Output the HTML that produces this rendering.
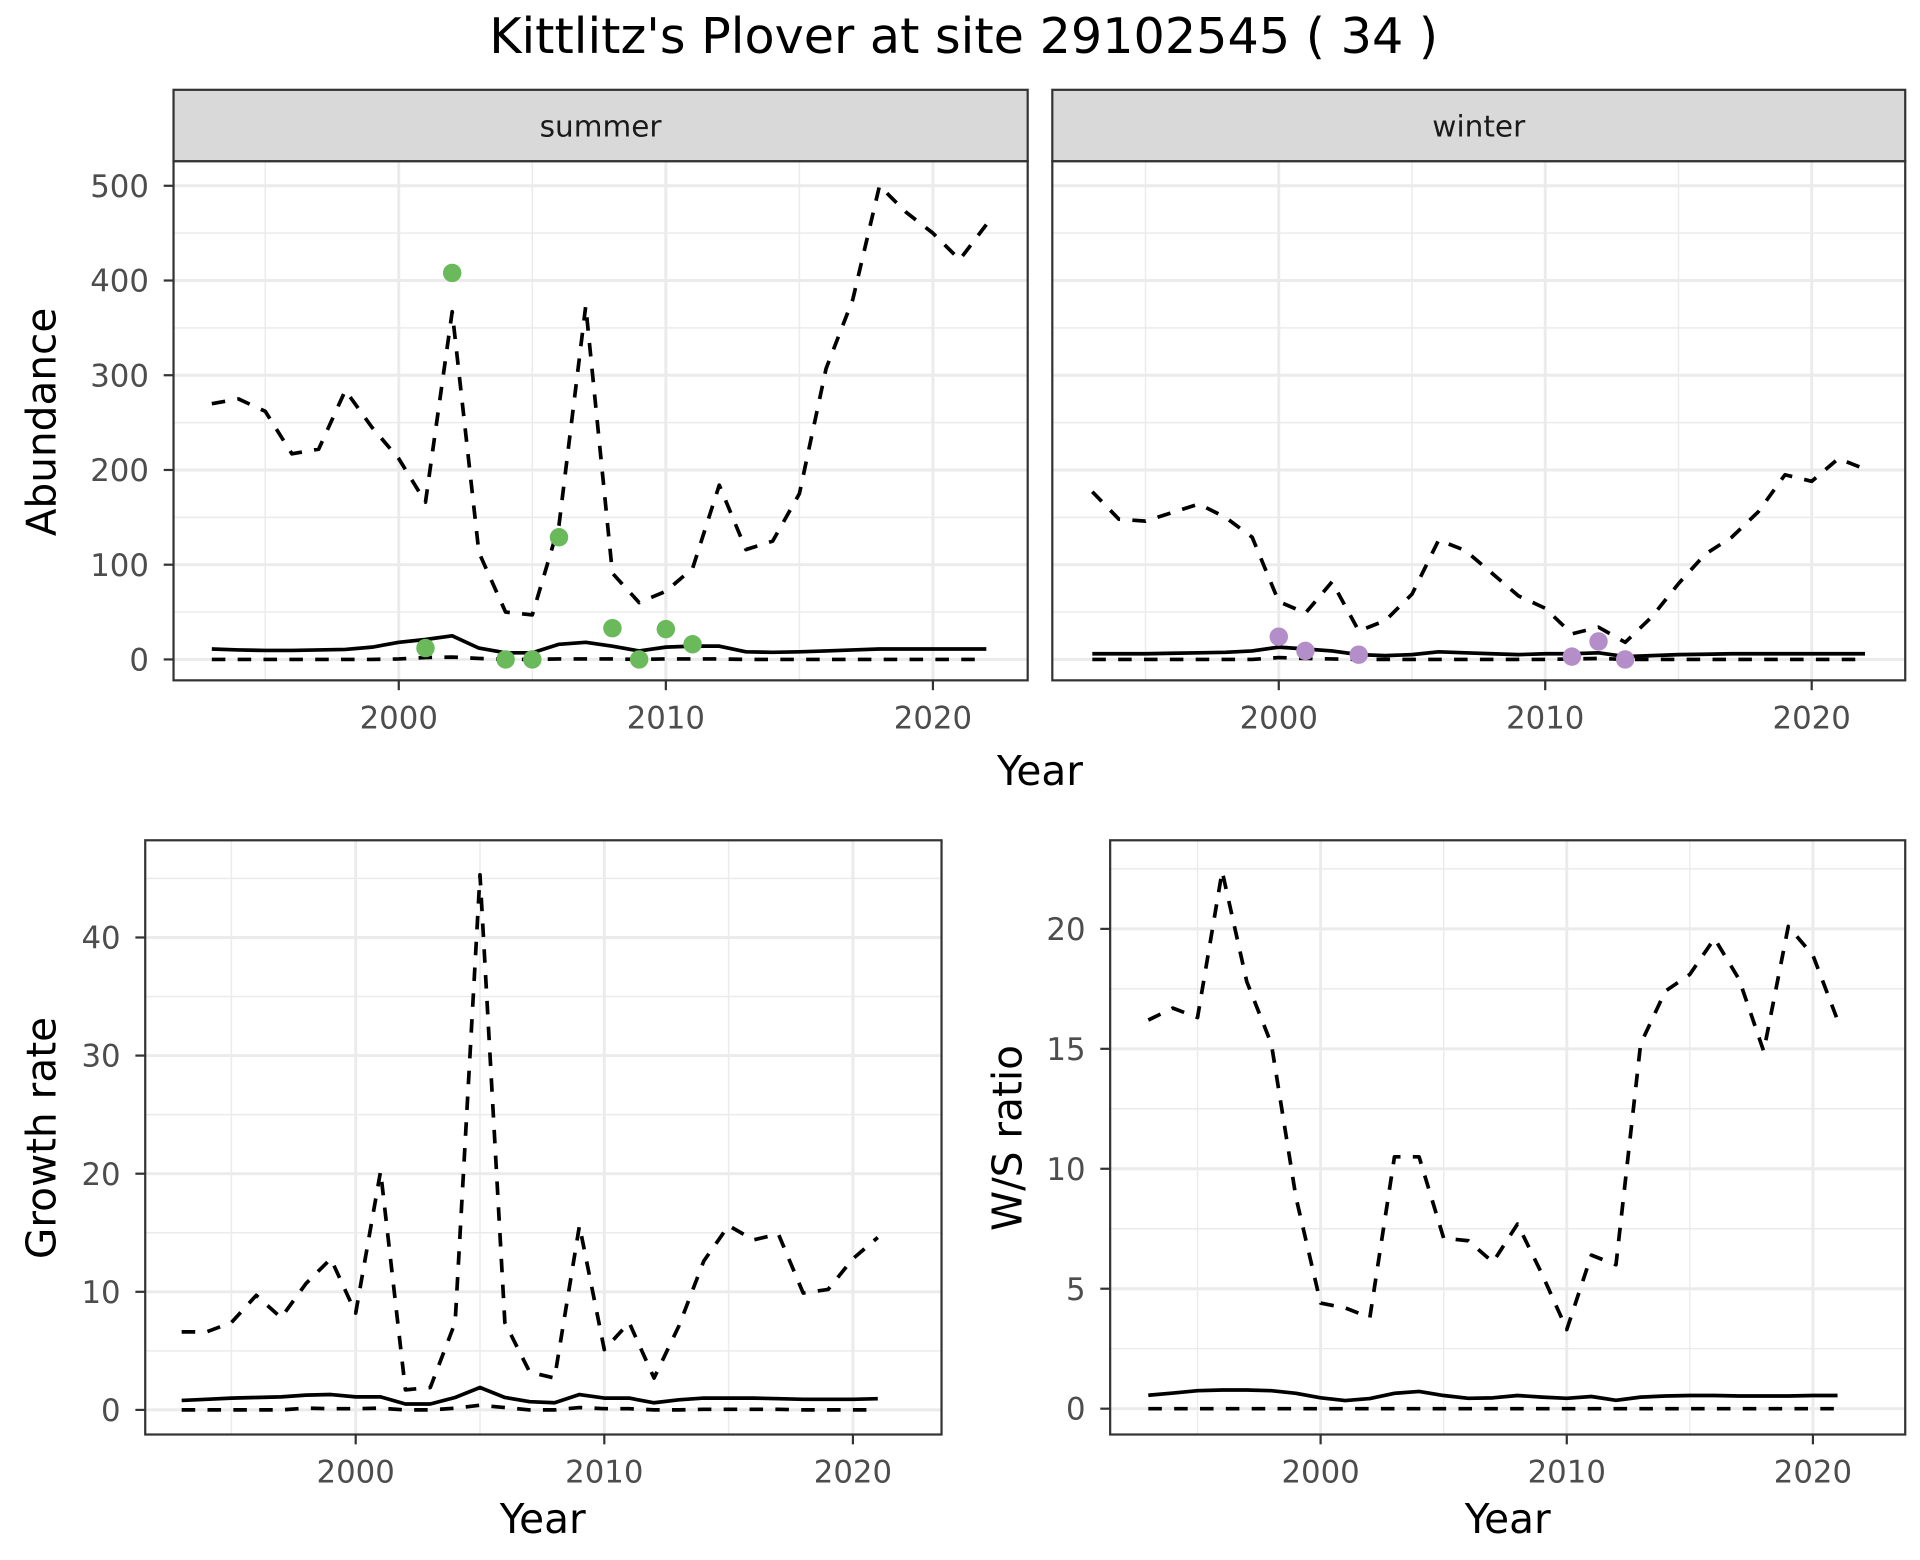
<!DOCTYPE html>
<html><head><meta charset="utf-8"><style>
html,body{margin:0;padding:0;background:#fff}
svg{display:block}
text{font-family:"DejaVu Sans","Liberation Sans",sans-serif}
</style></head><body>
<svg id="chart" width="1920" height="1560" viewBox="0 0 1560 1268" preserveAspectRatio="none" xmlns="http://www.w3.org/2000/svg">
<rect x="0" y="0" width="1560" height="1268" fill="#fff"/>
<text x="783" y="43" font-size="40" text-anchor="middle" fill="#000">Kittlitz's Plover at site 29102545 ( 34 )</text>
</svg>
<script>
const years = [1993,1994,1995,1996,1997,1998,1999,2000,2001,2002,2003,2004,2005,2006,2007,2008,2009,2010,2011,2012,2013,2014,2015,2016,2017,2018,2019,2020,2021,2022];
const summerUpper = [270,275,262,217,222,284,245,212,166,367,113,50,47,142,373,91,60,72,96,184,116,125,175,307,380,500,472,450,422,459];
const summerMid = [11,10,9.5,9.5,10,10.5,13,18,21,25,12,7,7,16,18,14,9,13,14,14,8,7.5,8,9,10,11,11,11,11,11];
const summerLower = [0,0,0,0,0,0,0,0.5,2,2.5,1,0,0,0.5,0.5,0.5,0,0.5,0.5,0.5,0,0,0,0,0,0,0,0,0,0];
const summerObsYears = [2001,2002,2004,2005,2006,2008,2009,2010,2011];
const summerObs = [12,408,0,0,129,33,0,32,16];
const winterUpper = [177,148,146,155,164,150,129,61,49,82,30,41,69,126,115,91,67,54,27,34,18,45,80,111,129,156,195,188,212,201];
const winterMid = [6,6,6,6.5,7,7.5,9,13,11,9,5,4,5,8,7,6,5,6,6,7,3,4,5,5.5,6,6,6,6,6,6];
const winterLower = [0,0,0,0,0,0,0,2,1,0.5,0,0,0,0,0,0,0,0,0.5,1,0,0,0,0,0,0,0,0,0,0];
const winterObsYears = [2000,2001,2003,2011,2012,2013];
const winterObs = [24,9,5,3,19,0];
const rateYears = [1993,1994,1995,1996,1997,1998,1999,2000,2001,2002,2003,2004,2005,2006,2007,2008,2009,2010,2011,2012,2013,2014,2015,2016,2017,2018,2019,2020,2021];
const growthUpper = [6.6,6.6,7.4,9.7,7.8,10.7,12.8,8.2,20.2,1.7,1.9,7.4,45.3,7.4,3.2,2.7,15.6,5.1,7.4,2.7,7.1,12.6,15.6,14.4,14.9,9.9,10.2,12.8,14.6];
const growthMid = [0.8,0.9,1.0,1.05,1.1,1.25,1.3,1.1,1.1,0.5,0.5,1.05,1.9,1.05,0.7,0.6,1.3,1.0,1.0,0.6,0.85,1.0,1.0,1.0,0.95,0.9,0.9,0.9,0.95];
const growthLower = [0,0,0,0,0,0.15,0.1,0.1,0.15,0,0,0.15,0.4,0.2,0,0,0.2,0.1,0.1,0,0,0.05,0.05,0.05,0.05,0,0,0,0];
const ratioUpper = [16.2,16.7,16.3,22.4,17.8,15.2,8.8,4.4,4.2,3.8,10.5,10.5,7.1,7.0,6.1,7.7,5.6,3.3,6.4,6.0,15.2,17.4,18.1,19.6,17.9,14.9,20.1,18.9,16.2];
const ratioMid = [0.56,0.65,0.75,0.78,0.78,0.75,0.64,0.45,0.34,0.42,0.64,0.72,0.55,0.43,0.45,0.55,0.48,0.43,0.51,0.35,0.48,0.53,0.55,0.55,0.53,0.53,0.53,0.55,0.55];
const ratioLower = [0,0,0,0,0,0,0,0,0,0,0,0,0,0,0,0,0,0,0,0,0,0,0,0,0,0,0,0,0];
const yTicksAbund = [0,100,200,300,400,500];
const yTicksGrowth = [0,10,20,30,40];
const yTicksRatio = [0,5,10,15,20];
const xTicks = [2000,2010,2020];

const NS = "http://www.w3.org/2000/svg";
const svg = document.getElementById('chart');
function mk(tag, attrs, parent){
  const e = document.createElementNS(NS, tag);
  for (const k in attrs) e.setAttribute(k, attrs[k]);
  (parent||svg).appendChild(e);
  return e;
}
function panel(p){
  const g = mk('g', {});
  
  
  const sx = v => p.x0 + (v - p.xv0) * p.xs;
  const sy = v => p.y0 - v * p.ys;
  mk('rect', {x:p.l, y:p.t, width:p.r-p.l, height:p.b-p.t, fill:'#fff'}, g);
  for (let v = p.xMinorStart; v <= p.xMax; v += 10) { const x = sx(v); if (x>p.l && x<p.r) mk('line',{x1:x,x2:x,y1:p.t,y2:p.b,stroke:'#ebebeb','stroke-width':1.2},g); }
  for (let v = p.yMinor; sy(v) > p.t; v += p.yStep) mk('line',{x1:p.l,x2:p.r,y1:sy(v),y2:sy(v),stroke:'#ebebeb','stroke-width':1.2},g);
  xTicks.forEach(v => mk('line',{x1:sx(v),x2:sx(v),y1:p.t,y2:p.b,stroke:'#ebebeb','stroke-width':2.4},g));
  p.yTicks.forEach(v => mk('line',{x1:p.l,x2:p.r,y1:sy(v),y2:sy(v),stroke:'#ebebeb','stroke-width':2.4},g));
  const line = (xs, ys, dash, nm) => {
    const d = xs.map((x,i)=> (i?'L':'M') + sx(x).toFixed(1) + ' ' + sy(ys[i]).toFixed(1)).join(' ');
    const path = mk('path',{d:d,fill:'none',stroke:'#000','stroke-width':3,'stroke-linejoin':'round'},g);
    if (dash) path.setAttribute('stroke-dasharray','11 10');
    
    
  };
  line(p.xs_, p.upper, true, 'upper-bound-line');
  line(p.xs_, p.mid, false, 'estimate-line');
  line(p.xs_, p.lower, true, 'lower-bound-line');
  if (p.obs) p.obs.forEach((v,i) => {
    const c = mk('circle',{cx:sx(p.obsYears[i]),cy:sy(v),r:7.5,fill:p.color},g);
    
    
  });
  mk('rect',{x:p.l,y:p.t,width:p.r-p.l,height:p.b-p.t,fill:'none',stroke:'#333','stroke-width':1.8},g);
  xTicks.forEach(v => {
    mk('line',{x1:sx(v),x2:sx(v),y1:p.b,y2:p.b+8,stroke:'#333','stroke-width':1.8},g);
    const t = mk('text',{x:sx(v),y:p.b+39,'font-size':25,fill:'#4d4d4d','text-anchor':'middle'},g);
    t.textContent = v;
    
    
  });
  if (p.yLabels) p.yTicks.forEach(v => {
    mk('line',{x1:p.l-8,x2:p.l,y1:sy(v),y2:sy(v),stroke:'#333','stroke-width':1.8},g);
    const t = mk('text',{x:p.l-20,y:sy(v)+9,'font-size':25,fill:'#4d4d4d','text-anchor':'end'},g);
    t.textContent = v;
    
    
  });
  if (p.strip) {
    const s = mk('rect',{x:p.l,y:73,width:p.r-p.l,height:p.t-73,fill:'#d9d9d9',stroke:'#333','stroke-width':1.8},g);
    
    
    const t = mk('text',{x:(p.l+p.r)/2,y:111,'font-size':24,fill:'#1a1a1a','text-anchor':'middle'},g);
    t.textContent = p.strip;
    
    
  }
}
panel({name:'summer-panel',l:141,r:835,t:131,b:553,x0:324,xv0:2000,xs:21.7,y0:536,ys:0.77,xMinorStart:1995,xMax:2025,yMinor:50,yStep:100,yTicks:yTicksAbund,yLabels:true,xs_:years,upper:summerUpper,mid:summerMid,lower:summerLower,obs:summerObs,obsYears:summerObsYears,color:'#6aba5c',strip:'summer'});
panel({name:'winter-panel',l:855,r:1548,t:131,b:553,x0:1039,xv0:2000,xs:21.65,y0:536,ys:0.77,xMinorStart:1995,xMax:2025,yMinor:50,yStep:100,yTicks:yTicksAbund,yLabels:false,xs_:years,upper:winterUpper,mid:winterMid,lower:winterLower,obs:winterObs,obsYears:winterObsYears,color:'#b48ec8',strip:'winter'});
panel({name:'growth-rate-panel',l:118,r:765,t:683,b:1166,x0:289,xv0:2000,xs:20.2,y0:1146,ys:9.6,xMinorStart:1995,xMax:2025,yMinor:5,yStep:10,yTicks:yTicksGrowth,yLabels:true,xs_:rateYears,upper:growthUpper,mid:growthMid,lower:growthLower});
panel({name:'ws-ratio-panel',l:902,r:1548,t:683,b:1166,x0:1073,xv0:2000,xs:20.0,y0:1145,ys:19.5,xMinorStart:1995,xMax:2025,yMinor:2.5,yStep:5,yTicks:yTicksRatio,yLabels:true,xs_:rateYears,upper:ratioUpper,mid:ratioMid,lower:ratioLower});
function label(txt, x, y, rot, nm){
  const t = mk('text',{x:x,y:y,'font-size':33,fill:'#000','text-anchor':'middle'});
  if (rot) t.setAttribute('transform','rotate(-90 '+x+' '+y+')');
  t.textContent = txt;
  
  
}
label('Year', 845, 638, false, 'top-x-axis-title');
label('Abundance', 45, 343, true, 'abundance-y-axis-title');
label('Year', 441, 1246, false, 'growth-x-axis-title');
label('Growth rate', 45, 925, true, 'growth-rate-y-axis-title');
label('Year', 1225, 1246, false, 'ratio-x-axis-title');
label('W/S ratio', 830, 925, true, 'ws-ratio-y-axis-title');
</script>
</body></html>
